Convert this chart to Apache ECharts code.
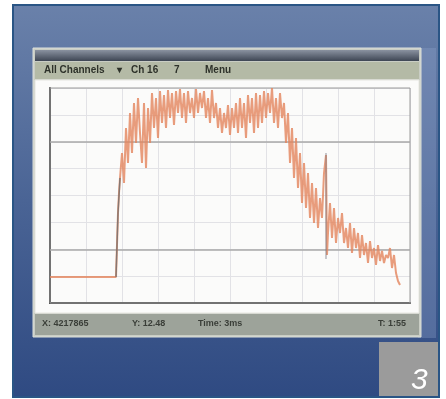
<!DOCTYPE html>
<html><head><meta charset="utf-8">
<script src="https://cdn.jsdelivr.net/npm/echarts@6/dist/echarts.min.js"></script>
<style>html,body{margin:0;padding:0;background:#fff}#c{width:446px;height:399px;filter:blur(0.7px)}</style>
</head><body><div id="c"></div>
<script>
// signal trace: x offset (time units) and level
const traceX = [0,66,67,68,69,70,72,74,76,78,80,82,84,86,88,90,92,94,96,98,100,102,104,106,108,110,112,114,116,118,120,122,124,126,128,130,132,134,136,138,140,142,144,146,148,150,152,154,156,158,160,162,164,166,168,170,172,174,176,178,180,182,184,186,188,190,192,194,196,198,200,202,204,206,208,210,212,214,216,218,220,222,224,226,228,230,232,234,236,238,240,242,244,246,248,250,252,254,256,258,260,262,264,266,268,270,272,274,276,277,278,280,282,284,286,288,290,292,294,296,298,300,302,304,306,308,310,312,314,316,318,320,322,324,326,328,330,332,334,336,338,340,342,344,346,348,350];
const traceY = [26,26,26,90,110,125,150,120,175,140,190,150,200,160,205,170,140,200,135,195,160,210,175,205,165,212,180,208,175,213,185,210,178,212,190,214,185,210,180,212,190,205,185,214,190,210,195,212,185,205,180,213,185,200,175,195,170,190,175,198,168,195,175,200,170,205,175,200,165,208,180,205,170,210,175,208,180,212,185,210,190,215,180,205,175,210,185,200,160,190,140,175,125,165,115,150,100,140,95,130,85,120,80,115,75,105,85,130,148,48,70,100,65,95,60,85,70,90,60,75,55,80,50,75,55,70,45,68,48,60,40,62,45,55,38,58,42,52,40,48,45,55,35,48,30,22,18];
// gray marks: rising edge and spike
const edgeX = [66, 67, 68, 70];
const edgeY = [26, 26, 90, 125];
const spikeX = [276, 276];
const spikeY = [150, 44];
// reference levels (dark grid lines)
const refLevels = [53.75, 161.25];
const menuLabels = ['All Channels', '\u25BE', 'Ch 16', '7', 'Menu'];
const statusLabels = ['X: 4217865', 'Y: 12.48', 'Time: 3ms', 'T: 1:55'];

const toPairs = (xs, ys) => xs.map((x, i) => [x, ys[i]]);
const chart = echarts.init(document.getElementById('c'));
const font = 'Liberation Sans, Arial, sans-serif';
chart.setOption({
  animation: false,
  backgroundColor: '#ffffff',
  grid: {left: 50, top: 88, width: 360, height: 215, show: true, borderColor: '#9a9a9a', borderWidth: 1, backgroundColor: 'transparent', z: 3},
  xAxis: {type: 'value', min: 0, max: 360, interval: 36,
    axisLine: {show: true, onZero: false, lineStyle: {color: '#4a4a4a', width: 2}},
    axisTick: {show: false}, axisLabel: {show: false},
    splitLine: {show: true, lineStyle: {color: '#e2e2e6', width: 1}}},
  yAxis: {type: 'value', min: 0, max: 215, interval: 26.875,
    axisLine: {show: true, onZero: false, lineStyle: {color: '#4a4a4a', width: 2}},
    axisTick: {show: false}, axisLabel: {show: false},
    splitLine: {show: true, lineStyle: {color: '#e2e2e6', width: 1}}},
  series: [{
    type: 'line', data: toPairs(traceX, traceY), symbol: 'none', z: 5,
    lineStyle: {color: 'rgba(228,132,92,0.8)', width: 2},
    markLine: {silent: true, symbol: 'none', label: {show: false},
      lineStyle: {color: '#a8a8a8', type: 'solid', width: 1.5},
      data: refLevels.map(v => ({yAxis: v}))}
  }, {
    type: 'line', data: toPairs(edgeX, edgeY), symbol: 'none', z: 6,
    lineStyle: {color: 'rgba(110,110,110,0.8)', width: 1.5}
  }, {
    type: 'line', data: toPairs(spikeX, spikeY), symbol: 'none', z: 6,
    lineStyle: {color: 'rgba(120,120,130,0.8)', width: 1}
  }],
  graphic: [
    {type: 'rect', z: -10, shape: {x: 13, y: 5, width: 426, height: 392},
      style: {fill: new echarts.graphic.LinearGradient(0, 0, 0, 1, [{offset: 0, color: '#6a81aa'}, {offset: 0.5, color: '#4a6495'}, {offset: 1, color: '#2f4a82'}]), stroke: '#2a5585', lineWidth: 2}},
    {type: 'rect', z: -9, shape: {x: 418, y: 48, width: 18, height: 290}, style: {fill: 'rgba(140,160,200,0.35)'}},
    {type: 'rect', z: -8, shape: {x: 33, y: 48, width: 388, height: 289}, style: {fill: '#c9cdc4', stroke: '#dde0da', lineWidth: 1}},
    {type: 'rect', z: -7, shape: {x: 35, y: 50, width: 384, height: 11}, style: {fill: new echarts.graphic.LinearGradient(0, 0, 0, 1, [{offset: 0, color: '#8a92a0'}, {offset: 1, color: '#3e4654'}])}},
    {type: 'rect', z: -7, shape: {x: 35, y: 62, width: 384, height: 17}, style: {fill: '#b4baa6'}},
    {type: 'rect', z: -7, shape: {x: 35, y: 80, width: 384, height: 233}, style: {fill: '#fbfbfa', stroke: '#e6e6e0', lineWidth: 1}},
    {type: 'rect', z: -7, shape: {x: 35, y: 314, width: 384, height: 21}, style: {fill: '#9da39a'}},
    {type: 'text', z: -6, left: 44, top: 65, style: {text: menuLabels[0], font: 'bold 10px ' + font, fill: '#2e322a'}},
    {type: 'text', z: -6, left: 117, top: 65, style: {text: menuLabels[1], font: 'bold 10px ' + font, fill: '#2e322a'}},
    {type: 'text', z: -6, left: 131, top: 65, style: {text: menuLabels[2], font: 'bold 10px ' + font, fill: '#2e322a'}},
    {type: 'text', z: -6, left: 174, top: 65, style: {text: menuLabels[3], font: 'bold 10px ' + font, fill: '#2e322a'}},
    {type: 'text', z: -6, left: 205, top: 65, style: {text: menuLabels[4], font: 'bold 10px ' + font, fill: '#2e322a'}},
    {type: 'text', z: -6, left: 42, top: 319, style: {text: statusLabels[0], font: 'bold 9px ' + font, fill: '#3a3e38'}},
    {type: 'text', z: -6, left: 132, top: 319, style: {text: statusLabels[1], font: 'bold 9px ' + font, fill: '#3a3e38'}},
    {type: 'text', z: -6, left: 198, top: 319, style: {text: statusLabels[2], font: 'bold 9px ' + font, fill: '#3a3e38'}},
    {type: 'text', z: -6, left: 378, top: 319, style: {text: statusLabels[3], font: 'bold 9px ' + font, fill: '#3a3e38'}},
    {type: 'rect', z: 20, shape: {x: 379, y: 342, width: 59, height: 54}, style: {fill: '#9b9b9b'}},
    {type: 'text', z: 21, left: 411, top: 366, style: {text: '3', font: 'italic 300 30px ' + font, fill: '#ffffff'}}
  ]
});
</script></body></html>
